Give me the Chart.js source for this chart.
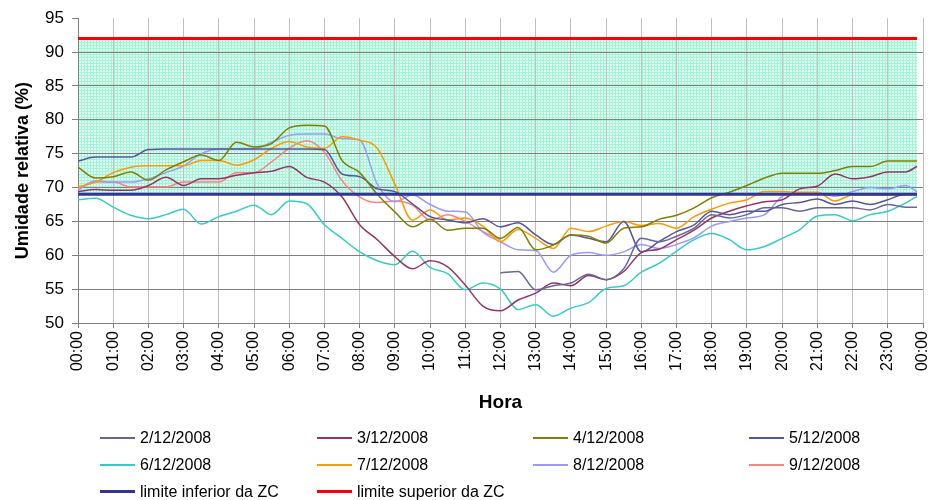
<!DOCTYPE html>
<html>
<head>
<meta charset="utf-8">
<script src="https://cdn.jsdelivr.net/npm/chart.js@4.4.0/dist/chart.umd.min.js"></script>
<style>
  html, body { margin: 0; padding: 0; background: #fff; }
  #wrap { position: relative; width: 932px; height: 500px; }
  #legend {
    position: absolute; left: 100px; top: 424px;
    display: grid; grid-template-columns: 217px 216px 216px 180px;
    grid-auto-rows: 27px;
    font-family: 'Liberation Sans', Arial, sans-serif;
    font-size: 16px; color: #000;
  }
  .item { display: flex; align-items: center; white-space: nowrap; }
  .swatch { width: 35px; margin-right: 5px; }
</style>
</head>
<body>
<div id="wrap">
  <canvas id="chart" width="932" height="500"></canvas>
  <div id="legend"></div>
</div>
<script>
// time of day in hours (half-hour readings, last reading at 23:50)
const hours = [0, 0.5, 1, 1.5, 2, 2.5, 3, 3.5, 4, 4.5, 5, 5.5, 6, 6.5, 7, 7.5, 8, 8.5, 9, 9.5, 10, 10.5, 11, 11.5,
  12, 12.5, 13, 13.5, 14, 14.5, 15, 15.5, 16, 16.5, 17, 17.5, 18, 18.5, 19, 19.5, 20, 20.5, 21, 21.5, 22, 22.5, 23, 23.5, 23.83];

const labels = ['2/12/2008', '3/12/2008', '4/12/2008', '5/12/2008', '6/12/2008', '7/12/2008', '8/12/2008', '9/12/2008'];

// relative humidity (%) per day; 2/12 starts at noon, 9/12 ends at noon
const rh0212 = [null, null, null, null, null, null, null, null, null, null, null, null,
  null, null, null, null, null, null, null, null, null, null, null, null,
  57.4, 57.6, 54.9, 55.5, 55.9, 57.2, 56.4, 58.0, 62.5, 62.0, 62.8, 64.0, 66.0, 65.5, 66.0, 67.0, 67.0, 66.5, 67.0, 67.0, 67.0, 66.7, 67.5, 67.1, 67.1];
const rh0312 = [69.4, 69.7, 69.6, 69.6, 70.3, 71.5, 70.3, 71.3, 71.3, 71.8, 72.2, 72.4, 73.1, 71.5, 70.8, 68.6, 64.5, 62.3, 59.8, 58.0, 59.2, 58.3, 55.6, 52.5,
  51.8, 53.4, 54.4, 55.9, 55.5, 57.0, 56.4, 57.6, 60.4, 60.9, 62.3, 63.7, 65.5, 66.5, 67.3, 67.9, 68.2, 69.8, 70.2, 72.0, 71.3, 71.6, 72.3, 72.3, 73.1];
const rh0412 = [73.0, 71.4, 71.6, 72.3, 71.1, 72.6, 73.8, 74.8, 74.0, 76.7, 76.0, 76.5, 78.8, 79.2, 79.1, 74.0, 72.2, 69.0, 66.4, 64.2, 65.3, 63.7, 64.0, 64.0,
  62.5, 64.1, 60.8, 61.5, 63.0, 62.8, 61.8, 64.0, 64.2, 65.3, 65.9, 67.0, 68.5, 69.3, 70.3, 71.4, 72.1, 72.1, 72.1, 72.5, 73.1, 73.1, 73.9, 73.9, 73.9];
const rh0512 = [73.9, 74.5, 74.5, 74.5, 75.6, 75.7, 75.7, 75.7, 75.7, 75.7, 75.7, 75.7, 75.7, 75.7, 75.6, 72.0, 71.6, 69.8, 69.4, 67.6, 65.7, 65.2, 64.8, 65.4,
  64.2, 64.8, 63.0, 61.6, 63.0, 62.5, 62.0, 65.0, 60.5, 62.0, 63.5, 64.5, 66.5, 66.0, 66.5, 66.5, 67.5, 67.8, 68.3, 67.5, 68.0, 67.5, 68.2, 69.0, 69.0];
const rh0612 = [68.2, 68.4, 67.1, 65.9, 65.4, 66.0, 66.8, 64.6, 65.7, 66.5, 67.4, 66.0, 68.0, 67.6, 64.5, 62.5, 60.5, 59.2, 58.6, 60.6, 58.2, 57.3, 54.9, 55.9,
  55.0, 52.0, 52.7, 51.0, 52.2, 53.0, 55.1, 55.5, 57.5, 58.8, 60.6, 62.3, 63.2, 62.3, 60.8, 61.3, 62.5, 63.8, 65.8, 66.0, 65.1, 66.0, 66.5, 67.7, 68.7];
const rh0712 = [70.1, 70.8, 72.2, 73.0, 73.2, 73.2, 73.2, 74.0, 74.0, 73.3, 74.1, 75.8, 76.8, 76.0, 75.8, 77.5, 77.0, 75.8, 70.5, 65.2, 66.7, 65.2, 65.5, 64.3,
  62.0, 63.8, 62.5, 61.0, 64.0, 63.5, 64.3, 65.0, 64.4, 64.7, 64.0, 65.7, 66.8, 67.7, 68.2, 69.4, 69.4, 69.3, 69.3, 68.0, 68.9, 68.9, 68.9, 68.9, 68.9];
const rh0812 = [69.6, 71.0, 70.8, 70.8, 71.3, 72.2, 73.2, 75.0, 75.7, 75.7, 75.7, 76.7, 77.7, 77.9, 77.9, 77.2, 77.0, 70.5, 67.9, 68.9, 67.5, 66.5, 66.4, 63.4,
  62.0, 60.8, 60.7, 57.5, 60.0, 60.4, 60.0, 60.5, 61.6, 61.0, 61.6, 62.6, 64.3, 65.0, 65.5, 66.0, 68.7, 69.2, 69.2, 68.7, 69.4, 70.0, 69.8, 70.3, 69.4];
const rh0912 = [69.9, 70.8, 70.8, 70.1, 70.1, 70.1, 70.8, 70.8, 70.8, 72.2, 72.2, 73.8, 75.8, 76.9, 75.2, 71.0, 68.6, 67.8, 68.0, 67.4, 65.2, 66.0, 65.0, 63.5,
  62.3];

// comfort zone (ZC) limits
const lowerLimit = 69;
const upperLimit = 92;

const yTicks = [50, 55, 60, 65, 70, 75, 80, 85, 90, 95];

const colors = ['#666699', '#993366', '#808000', '#55559f', '#33cccc', '#ff9900', '#9999ff', '#ff8080'];
const series = [rh0212, rh0312, rh0412, rh0512, rh0612, rh0712, rh0812, rh0912];

const FONT = "'Liberation Sans', Arial, sans-serif";

// light green hatched fill for the comfort zone
const patternCanvas = document.createElement('canvas');
patternCanvas.width = 3;
patternCanvas.height = 3;
const pctx = patternCanvas.getContext('2d');
pctx.fillStyle = '#dcfdf1';
pctx.fillRect(0, 0, 3, 3);
pctx.fillStyle = '#a6f2d6';
pctx.fillRect(0, 0, 3, 1);
pctx.fillRect(0, 0, 1, 3);
const zonePattern = pctx.createPattern(patternCanvas, 'repeat');

const toPoints = vals => vals.map((v, i) => ({ x: hours[i], y: v }));

const datasets = series.map((vals, i) => ({
  label: labels[i],
  data: toPoints(vals),
  borderColor: colors[i],
  backgroundColor: colors[i],
  borderWidth: 1.5,
  pointRadius: 0,
  cubicInterpolationMode: 'monotone',
  fill: false,
  order: 1
}));

datasets.push({
  label: 'limite inferior da ZC',
  data: hours.map(h => ({ x: h, y: lowerLimit })),
  borderColor: '#333399',
  borderWidth: 3,
  pointRadius: 0,
  fill: false,
  order: 0
});
datasets.push({
  label: 'limite superior da ZC',
  data: hours.map(h => ({ x: h, y: upperLimit })),
  borderColor: '#ff0000',
  backgroundColor: zonePattern,
  borderWidth: 3,
  pointRadius: 0,
  fill: 8,
  order: 0
});

const pad2 = n => (n < 10 ? '0' : '') + n;

new Chart(document.getElementById('chart'), {
  type: 'line',
  data: { datasets },
  options: {
    responsive: false,
    animation: false,
    layout: { padding: { left: 12, right: 9, top: 17, bottom: 86 } },
    plugins: {
      legend: { display: false },
      tooltip: { enabled: false },
      filler: { drawTime: 'beforeDraw' }
    },
    scales: {
      x: {
        type: 'linear',
        min: 0,
        max: 24,
        afterFit: s => { s.height = 91; s.paddingLeft = 0; s.paddingRight = 0; },
        grid: { color: '#c0c0c0', tickColor: '#808080', tickLength: 5 },
        border: { color: '#808080' },
        ticks: {
          stepSize: 1,
          autoSkip: false,
          maxRotation: 90,
          minRotation: 90,
          color: '#000',
          padding: 3,
          font: { family: FONT, size: 16 },
          callback: v => pad2(v % 24) + ':00'
        },
        title: {
          display: true,
          text: 'Hora',
          color: '#000',
          padding: { top: 0, bottom: 0 },
          font: { family: FONT, size: 19, weight: 'bold' }
        }
      },
      y: {
        min: 50,
        max: 95,
        afterFit: s => { s.width = 66; },
        afterBuildTicks: s => { s.ticks = yTicks.map(v => ({ value: v })); },
        grid: {
          color: c => (c.tick && c.tick.value === 95 ? 'rgba(0,0,0,0)' : '#808080'),
          tickColor: '#808080',
          tickLength: 6
        },
        border: { color: '#808080' },
        ticks: {
          color: '#000',
          padding: 8,
          font: { family: FONT, size: 17 }
        },
        title: {
          display: true,
          text: 'Umidade relativa (%)',
          color: '#000',
          padding: { top: 0, bottom: 0 },
          font: { family: FONT, size: 18, weight: 'bold' }
        }
      }
    }
  }
});

// legend in four columns, as in the original
const legendEl = document.getElementById('legend');
datasets.forEach(ds => {
  const item = document.createElement('div');
  item.className = 'item';
  const sw = document.createElement('span');
  sw.className = 'swatch';
  sw.style.height = (ds.borderWidth > 2 ? 3 : 2) + 'px';
  sw.style.background = ds.borderColor;
  item.appendChild(sw);
  item.appendChild(document.createTextNode(ds.label));
  legendEl.appendChild(item);
});
</script>
</body>
</html>
